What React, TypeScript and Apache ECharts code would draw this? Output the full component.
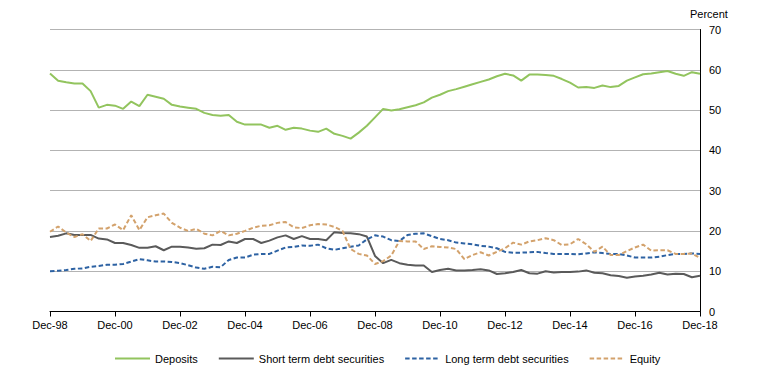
import React, { useEffect, useRef } from "react";
import * as echarts from "echarts";

const quarterMonths = ["Mar", "Jun", "Sep", "Dec"];
const categories: string[] = ["Dec-98"];
for (let y = 1999; y <= 2018; y++) {
  for (const m of quarterMonths) categories.push(`${m}-${String(y % 100).padStart(2, "0")}`);
}

const deposits = [
  59.1, 57.3, 56.9, 56.6, 56.6, 54.7, 50.6, 51.3, 51.1, 50.3, 52.1, 51.0, 53.8,
  53.3, 52.8, 51.3, 50.9, 50.6, 50.3, 49.3, 48.8, 48.6, 48.8, 47.1, 46.4, 46.4,
  46.4, 45.6, 46.1, 45.1, 45.6, 45.4, 44.9, 44.6, 45.4, 44.1, 43.6, 42.9, 44.4,
  46.1, 48.2, 50.3, 49.9, 50.2, 50.7, 51.2, 51.9, 53.1, 53.8, 54.7, 55.2, 55.8,
  56.4, 57.0, 57.6, 58.4, 59.0, 58.6, 57.3, 58.8, 58.8, 58.7, 58.5, 57.7, 56.8,
  55.6, 55.7, 55.5, 56.1, 55.7, 56.0, 57.3, 58.1, 58.9, 59.1, 59.4, 59.7, 59.0, 58.5, 59.4, 59.0,
];

const shortTerm = [
  18.5, 18.8, 19.4, 19.0, 19.0, 19.0, 18.1, 17.9, 17.0, 17.0, 16.5, 15.8, 15.8, 16.2, 15.2, 16.1, 16.1,
  15.9, 15.6, 15.7, 16.6, 16.5, 17.4, 17.0, 18.0, 18.0, 17.0, 17.6, 18.4, 18.9, 18.0, 18.7, 18.0,
  18.0, 17.7, 19.7, 19.5, 19.4, 19.2, 18.6, 13.8, 12.0, 12.8, 12.0, 11.6, 11.4, 11.4, 9.8, 10.3,
  10.6, 10.2, 10.2, 10.3, 10.5, 10.2, 9.3, 9.5, 9.8, 10.3, 9.5, 9.4, 10.0, 9.7, 9.8, 9.8,
  9.9, 10.2, 9.6, 9.5, 9.0, 8.8, 8.4, 8.7, 8.9, 9.2, 9.6, 9.2, 9.4, 9.3, 8.5, 8.9,
];

const longTerm = [
  10.0, 10.1, 10.3, 10.6, 10.7, 11.1, 11.3, 11.6, 11.6, 11.8, 12.4, 13.0, 12.7, 12.4, 12.4, 12.3, 12.0,
  11.5, 10.9, 10.6, 11.1, 11.0, 12.8, 13.4, 13.4, 14.1, 14.3, 14.3, 15.1, 15.9, 16.0, 16.4, 16.3,
  16.6, 15.7, 15.3, 15.7, 16.1, 16.4, 17.9, 18.9, 18.6, 17.7, 17.5, 19.0, 19.3, 19.4, 18.7, 18.0,
  17.7, 17.1, 16.9, 16.7, 16.3, 16.1, 15.7, 14.8, 14.6, 14.6, 14.7, 14.8, 14.5, 14.3, 14.3, 14.3,
  14.2, 14.4, 14.7, 14.5, 14.3, 14.3, 13.9, 13.4, 13.4, 13.4, 13.6, 14.0, 14.3, 14.3, 14.4, 14.3,
];

const equity = [
  19.8, 21.1, 19.6, 18.5, 19.2, 17.5, 20.6, 20.6, 21.6, 20.2, 23.9, 20.2, 23.4, 23.9, 24.3, 22.0, 20.8,
  20.0, 20.5, 19.3, 18.9, 20.0, 18.9, 19.3, 20.0, 20.8, 21.3, 21.4, 22.0, 22.2, 20.9, 20.7, 21.4,
  21.7, 21.6, 21.0, 20.0, 15.5, 14.3, 13.9, 11.8, 12.5, 13.9, 17.5, 17.4, 17.4, 15.5, 16.2, 16.0,
  15.9, 15.5, 13.0, 14.0, 14.7, 13.9, 14.8, 15.7, 17.1, 16.6, 17.4, 17.7, 18.2, 17.7, 16.5, 16.7,
  18.0, 16.7, 14.8, 16.1, 14.0, 14.0, 15.0, 15.9, 16.6, 15.1, 15.2, 15.2, 14.3, 14.3, 14.4, 13.3,
];

const seriesNames = ["Deposits", "Short term debt securities", "Long term debt securities", "Equity"];
const yTicks = { min: 0, max: 70, interval: 10 };
const FONT = "'Liberation Sans', Arial, sans-serif";

export default function App() {
  const ref = useRef<HTMLDivElement>(null);
  useEffect(() => {
    if (!ref.current) return;
    const chart = echarts.init(ref.current, undefined, { renderer: "svg" });
    const mk = (name: string, data: number[], color: string, dashed: boolean) => ({
      name,
      type: "line",
      data,
      symbol: "none",
      showSymbol: false,
      lineStyle: { color, width: 2, type: dashed ? [4.5, 2.5] : "solid" },
      itemStyle: { color },
    });
    chart.setOption({
      animation: false,
      backgroundColor: "#ffffff",
      textStyle: { fontFamily: FONT },
      grid: { left: 50, right: 57, top: 29.5, bottom: 67.5, containLabel: false },
      graphic: [
        {
          type: "text",
          left: 690,
          top: 8,
          style: { text: "Percent", fontSize: 11, fill: "#000", fontFamily: FONT },
        },
      ],
      legend: {
        bottom: 10,
        left: 109,
        itemWidth: 35,
        itemHeight: 10,
        itemGap: 20,
        data: seriesNames,
        itemStyle: { opacity: 0 },
        textStyle: { fontSize: 11, color: "#000", fontFamily: FONT },
      },
      xAxis: {
        type: "category",
        data: categories,
        boundaryGap: false,
        axisLine: { lineStyle: { color: "#000", width: 1 } },
        axisTick: { interval: 7, length: 5, lineStyle: { color: "#000" } },
        axisLabel: { interval: 7, fontSize: 11, color: "#000", margin: 8, fontFamily: FONT },
        splitLine: { show: false },
      },
      yAxis: {
        type: "value",
        position: "right",
        min: yTicks.min,
        max: yTicks.max,
        interval: yTicks.interval,
        axisLine: { show: true, lineStyle: { color: "#000", width: 1 } },
        axisTick: { show: false },
        axisLabel: { fontSize: 11, color: "#000", margin: 9, fontFamily: FONT },
        splitLine: { lineStyle: { color: "#b3b3b3", width: 1 } },
      },
      series: [
        mk(seriesNames[0], deposits, "#92c45e", false),
        mk(seriesNames[1], shortTerm, "#5a5a5a", false),
        mk(seriesNames[2], longTerm, "#2d62a3", true),
        mk(seriesNames[3], equity, "#d3a26c", true),
      ],
    });
    return () => chart.dispose();
  }, []);
  return (
    <div
      ref={ref}
      style={{ position: "fixed", left: 0, top: 0, width: 757, height: 379, background: "#fff" }}
    />
  );
}
